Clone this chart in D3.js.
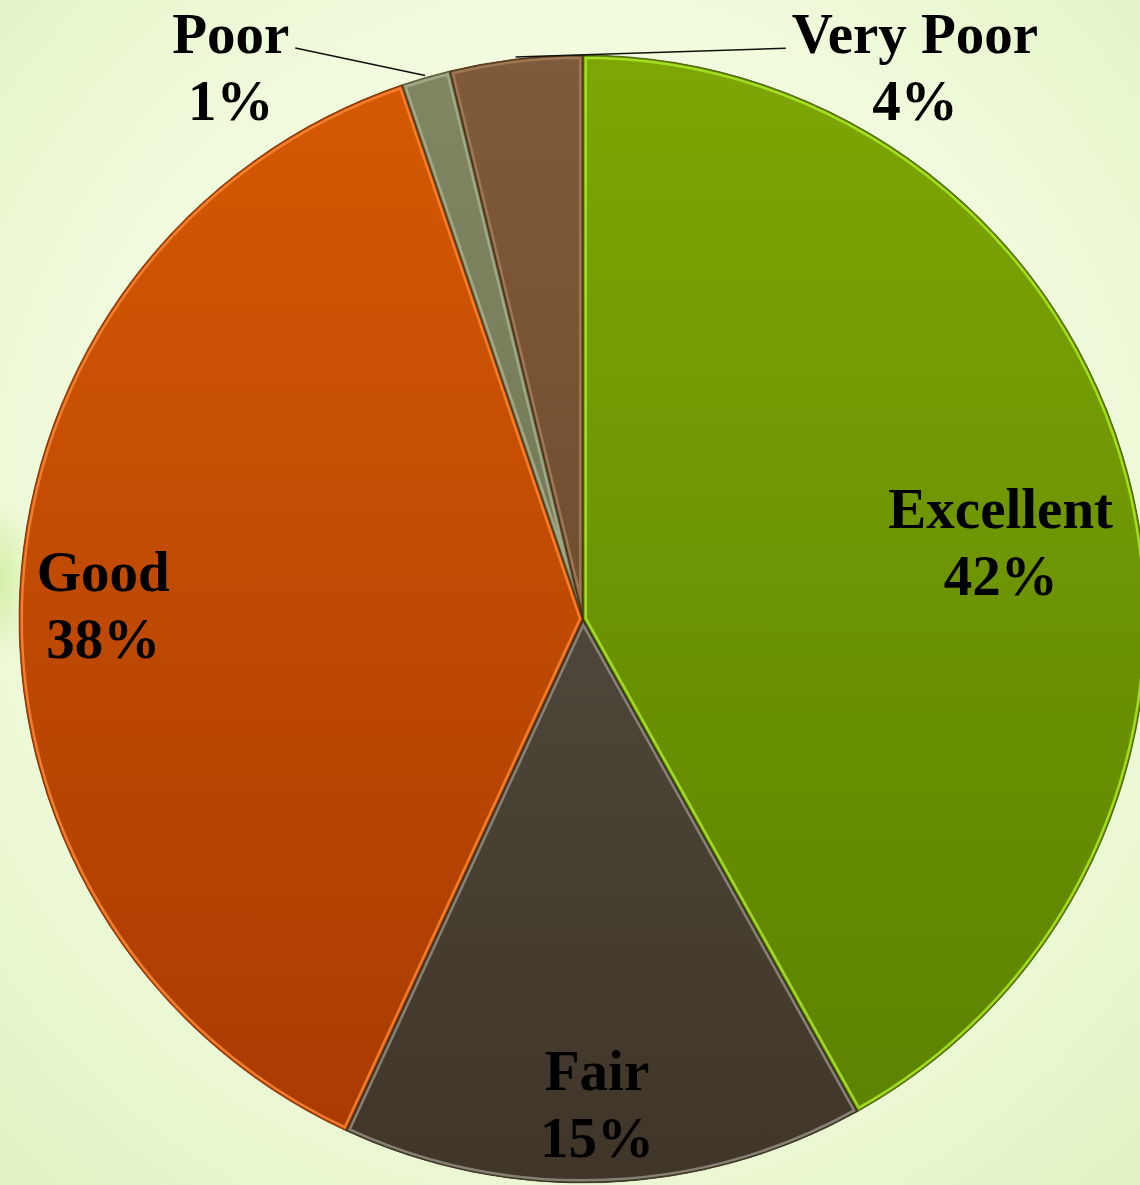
<!DOCTYPE html>
<html>
<head>
<meta charset="utf-8">
<script src="https://cdn.jsdelivr.net/npm/d3@7"></script>
<style>
  html, body { margin: 0; padding: 0; }
  body { width: 1140px; height: 1185px; overflow: hidden; }
</style>
</head>
<body>
<div id="chart"></div>
<script>
// rating shares, clockwise from 12 o'clock
const categories = ['Excellent', 'Fair', 'Good', 'Poor', 'Very Poor'];
const shares = [41.9, 15.0, 37.9, 1.4, 3.8];

const width = 1140;
const height = 1185;
const center = { x: 583, y: 619 };
const radius = 564;

// fill colours: top of gradient, bottom of gradient, bevel highlight
const palette = {
  Excellent: ['#7ea605', '#5b8000', '#a6e425'],
  Fair: ['#5f584e', '#3f3528', '#8e887c'],
  Good: ['#d65a04', '#a83902', '#f7832f'],
  Poor: ['#808662', '#686e4c', '#a4ac8a'],
  'Very Poor': ['#7f5b3b', '#643f24', '#a27a58'],
};

// label anchor: angle (deg, clockwise from top) and distance as a share of radius
const labelLayout = {
  Excellent: { angle: 77.7, k: 0.758 },
  Fair: { angle: 178.3, k: 0.835 },
  Good: { angle: 273.3, k: 0.852 },
  Poor: { angle: 328.1, k: 1.182 },
  'Very Poor': { angle: 30.4, k: 1.163 },
};
const outside = ['Poor', 'Very Poor'];

const svg = d3
  .select('#chart')
  .append('svg')
  .attr('width', width)
  .attr('height', height);

const defs = svg.append('defs');

// background wash
const bg = defs
  .append('radialGradient')
  .attr('id', 'bg')
  .attr('cx', '50%')
  .attr('cy', '45%')
  .attr('r', '75%');
bg.append('stop').attr('offset', '0%').attr('stop-color', '#f7fdeb');
bg.append('stop').attr('offset', '60%').attr('stop-color', '#f0fadc');
bg.append('stop').attr('offset', '100%').attr('stop-color', '#e0f3c2');

svg.append('rect').attr('width', width).attr('height', height).attr('fill', 'url(#bg)');

// a soft greener patch at the left edge
const band = defs
  .append('radialGradient')
  .attr('id', 'band')
  .attr('cx', '0%')
  .attr('cy', '50%')
  .attr('r', '50%');
band.append('stop').attr('offset', '0%').attr('stop-color', '#d3eea2').attr('stop-opacity', 0.9);
band.append('stop').attr('offset', '100%').attr('stop-color', '#d3eea2').attr('stop-opacity', 0);
svg.append('rect')
  .attr('x', 0).attr('y', 500).attr('width', 80).attr('height', 160)
  .attr('fill', 'url(#band)');

const pie = d3.pie().sort(null).value((d) => d.value);
const arcs = pie(categories.map((name, i) => ({ name, value: shares[i] })));
const total = d3.sum(shares);

const arc = d3.arc().innerRadius(0).outerRadius(radius);

const g = svg.append('g').attr('transform', `translate(${center.x},${center.y})`);

arcs.forEach((d, i) => {
  const [top, bottom] = palette[d.data.name];
  const grad = defs
    .append('linearGradient')
    .attr('id', `fill${i}`)
    .attr('gradientUnits', 'userSpaceOnUse')
    .attr('x1', 0).attr('y1', -radius)
    .attr('x2', 0).attr('y2', radius);
  grad.append('stop').attr('offset', '0%').attr('stop-color', top);
  grad.append('stop').attr('offset', '100%').attr('stop-color', bottom);

  defs.append('clipPath')
    .attr('id', `clip${i}`)
    .append('path')
    .attr('d', arc(d));
});

// slice fill
g.selectAll('path.slice')
  .data(arcs)
  .enter()
  .append('path')
  .attr('class', 'slice')
  .attr('d', arc)
  .attr('fill', (d, i) => `url(#fill${i})`);

// inner bevel: dark rim then light band, both kept inside the slice
const bevel = g.selectAll('g.bevel')
  .data(arcs)
  .enter()
  .append('g')
  .attr('class', 'bevel')
  .attr('clip-path', (d, i) => `url(#clip${i})`);

bevel.append('path')
  .attr('d', arc)
  .attr('fill', 'none')
  .attr('stroke', (d) => palette[d.data.name][2])
  .attr('stroke-width', 8)
  .attr('stroke-opacity', 0.9);

bevel.append('path')
  .attr('d', arc)
  .attr('fill', 'none')
  .attr('stroke', (d) => palette[d.data.name][1])
  .attr('stroke-width', 3)
  .attr('stroke-opacity', 0.9);

// thin dark seams
g.selectAll('path.seam')
  .data(arcs)
  .enter()
  .append('path')
  .attr('class', 'seam')
  .attr('d', arc)
  .attr('fill', 'none')
  .attr('stroke', '#2e2410')
  .attr('stroke-opacity', 0.5)
  .attr('stroke-width', 1);

// labels
const fontSize = 57;
const lineGap = 67;
const polar = (angleDeg, dist) => {
  const a = (angleDeg * Math.PI) / 180;
  return [dist * Math.sin(a), -dist * Math.cos(a)];
};

const labels = g.selectAll('g.label')
  .data(arcs)
  .enter()
  .append('g')
  .attr('class', 'label')
  .attr('transform', (d) => {
    const l = labelLayout[d.data.name];
    const [x, y] = polar(l.angle, l.k * radius);
    return `translate(${x},${y})`;
  });

labels.append('text')
  .attr('class', 'name')
  .attr('text-anchor', 'middle')
  .style('font-family', '"Liberation Serif", "Times New Roman", serif')
  .style('font-weight', 'bold')
  .style('font-size', `${fontSize}px`)
  .attr('fill', '#000')
  .text((d) => d.data.name);

labels.append('text')
  .attr('text-anchor', 'middle')
  .attr('y', lineGap)
  .style('font-family', '"Liberation Serif", "Times New Roman", serif')
  .style('font-weight', 'bold')
  .style('font-size', `${fontSize}px`)
  .attr('fill', '#000')
  .text((d) => `${Math.round((d.value / total) * 100)}%`);

// leader lines for the two small slices
labels.filter((d) => outside.includes(d.data.name)).each(function (d) {
  const l = labelLayout[d.data.name];
  const [lx, ly] = polar(l.angle, l.k * radius);
  const w = d3.select(this).select('text.name').node().getComputedTextLength();
  const mid = ((d.startAngle + d.endAngle) / 2) * (180 / Math.PI);
  const [ex, ey] = polar(mid, radius + 2);
  const side = lx < ex ? 1 : -1;
  const sx = lx + side * (w / 2 + 6);
  g.append('line')
    .attr('x1', sx)
    .attr('y1', ly - 5)
    .attr('x2', ex)
    .attr('y2', ey)
    .attr('stroke', '#111')
    .attr('stroke-width', 1.6);
});
</script>
</body>
</html>
